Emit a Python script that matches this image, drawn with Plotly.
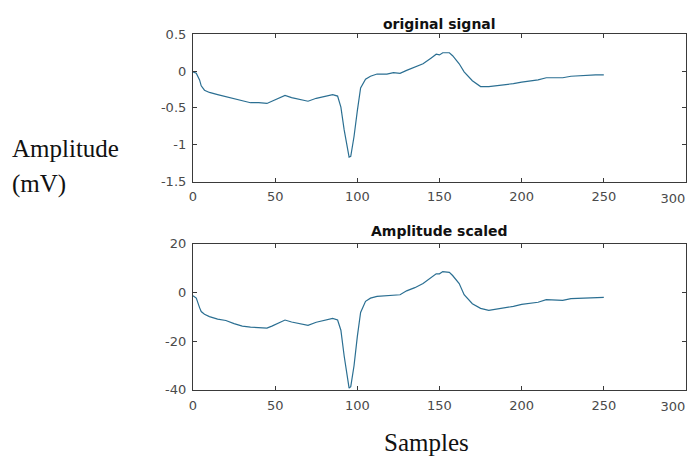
import plotly.graph_objects as go

# ---- data ----
samples = [0, 2, 4, 5, 7, 10, 15, 20, 25, 30, 35, 40, 45, 48, 52, 56, 60, 65, 70, 75,
           80, 85, 88, 90, 92, 94, 95, 96, 98, 100, 102, 105, 108, 112, 118, 122, 126,
           130, 135, 140, 145, 148, 150, 152, 156, 158, 162, 165, 170, 175, 180, 185,
           190, 195, 200, 205, 210, 215, 220, 225, 230, 235, 240, 245, 250]

original = [-0.01, -0.03, -0.12, -0.20, -0.26, -0.29, -0.32, -0.35, -0.38, -0.41, -0.43,
            -0.43, -0.44, -0.41, -0.37, -0.33, -0.36, -0.39, -0.41, -0.37, -0.34, -0.32,
            -0.34, -0.49, -0.80, -1.06, -1.17, -1.16, -0.89, -0.54, -0.23, -0.11, -0.07,
            -0.04, -0.04, -0.02, -0.03, 0.01, 0.06, 0.10, 0.18, 0.23, 0.22, 0.25, 0.25,
            0.21, 0.10, -0.01, -0.13, -0.21, -0.21, -0.20, -0.19, -0.17, -0.15, -0.14,
            -0.12, -0.09, -0.09, -0.09, -0.07, -0.06, -0.06, -0.05, -0.05]

scaled = [-1.3, -2.3, -6.2, -7.8, -8.9, -9.9, -10.9, -11.5, -12.8, -13.8, -14.2, -14.4,
          -14.6, -13.8, -12.5, -11.3, -12.1, -12.8, -13.5, -12.2, -11.5, -10.6, -11.3,
          -15.5, -26.1, -35.4, -39.3, -38.7, -30.1, -18.1, -8.2, -3.6, -2.3, -1.6, -1.3,
          -1.2, -0.9, 0.7, 2.0, 3.7, 6.4, 7.7, 7.7, 8.6, 8.3, 7.0, 3.7, -0.9, -4.6, -6.5,
          -7.3, -6.8, -6.5, -5.7, -4.9, -4.6, -4.0, -2.9, -2.9, -3.2, -2.5, -2.4, -2.3,
          -2.0, -2.0]

x_ticks = [0, 50, 100, 150, 200, 250, 300]
x_tick_labels = ["0", "50", "100", "150", "200", "250", ""]
x_edge_tick = [300]
x_edge_label = ["300"]
top_y_ticks = [0.5, 0, -0.5, -1, -1.5]
top_y_labels = ["0.5", "0", "-0.5", "-1", "-1.5"]
bot_y_ticks = [20, 0, -20, -40]
bot_y_labels = ["20", "0", "-20", "-40"]

titles = ["original signal", "Amplitude scaled"]

W, H = 696, 464
LINE = "#2b6f92"
AX = "#3a3a3a"
TICKFONT = dict(family="DejaVu Sans", size=13, color="#4a4a4a")


def px(x):
    return x / W


def py(y):
    return 1 - y / H


fig = go.Figure()
fig.add_trace(go.Scatter(x=samples, y=original, mode="lines",
                         line=dict(color=LINE, width=1.2), xaxis="x", yaxis="y",
                         showlegend=False))
fig.add_trace(go.Scatter(x=samples, y=scaled, mode="lines",
                         line=dict(color=LINE, width=1.2), xaxis="x2", yaxis="y2",
                         showlegend=False))
# empty traces so the overlay axes carrying the edge label are drawn
fig.add_trace(go.Scatter(x=[], y=[], xaxis="x3", yaxis="y", showlegend=False))
fig.add_trace(go.Scatter(x=[], y=[], xaxis="x4", yaxis="y2", showlegend=False))

axis_common = dict(showline=True, linecolor=AX, linewidth=1, mirror="ticks",
                   ticks="inside", ticklen=4, tickcolor=AX, showgrid=False,
                   zeroline=False, tickfont=TICKFONT)
edge_common = dict(showline=False, ticks="", showgrid=False, zeroline=False,
                   tickfont=TICKFONT, tickvals=x_edge_tick, ticktext=x_edge_label,
                   ticklabelshift=-13, ticklabelstandoff=7, ticklabeloverflow="allow")

xdom = [px(190), px(686)]
XR = [-0.05, 300.05]
fig.update_layout(
    width=W, height=H, autosize=False,
    margin=dict(l=0, r=0, t=0, b=0),
    paper_bgcolor="white", plot_bgcolor="white",
    xaxis=dict(domain=xdom, range=XR, tickvals=x_ticks, ticktext=x_tick_labels,
               anchor="y", ticklabelstandoff=3, **axis_common),
    yaxis=dict(domain=[py(180), py(28)], range=[-1.503, 0.503], tickvals=top_y_ticks,
               ticktext=top_y_labels, anchor="x", ticklabelstandoff=3, **axis_common),
    xaxis2=dict(domain=xdom, range=XR, tickvals=x_ticks, ticktext=x_tick_labels,
                anchor="y2", ticklabelstandoff=3, **axis_common),
    yaxis2=dict(domain=[py(395), py(244)], range=[-40.1, 20.1], tickvals=bot_y_ticks,
                ticktext=bot_y_labels, anchor="x2", ticklabelstandoff=3, **axis_common),
    xaxis3=dict(overlaying="x", anchor="y", side="bottom", range=XR, **edge_common),
    xaxis4=dict(overlaying="x2", anchor="y2", side="bottom", range=XR, **edge_common),
)

title_font = dict(family="DejaVu Sans", size=14, color="#111111")
fig.add_annotation(text="<b>%s</b>" % titles[0], x=px(438), y=py(18), xref="paper",
                   yref="paper", showarrow=False, xanchor="center", yanchor="middle",
                   font=title_font)
fig.add_annotation(text="<b>%s</b>" % titles[1], x=px(438), y=py(231), xref="paper",
                   yref="paper", showarrow=False, xanchor="center", yanchor="middle",
                   font=title_font)

serif = dict(family="Liberation Serif", size=25, color="#111111")
fig.add_annotation(text="Amplitude", x=px(6), y=py(146), xref="paper", yref="paper",
                   showarrow=False, xanchor="left", yanchor="middle", font=serif)
fig.add_annotation(text="(mV)", x=px(6), y=py(183), xref="paper", yref="paper",
                   showarrow=False, xanchor="left", yanchor="middle", font=serif)
fig.add_annotation(text="Samples", x=px(425), y=py(449), xref="paper", yref="paper",
                   showarrow=False, xanchor="center", yanchor="middle", font=serif)

fig.write_html("out.html")
